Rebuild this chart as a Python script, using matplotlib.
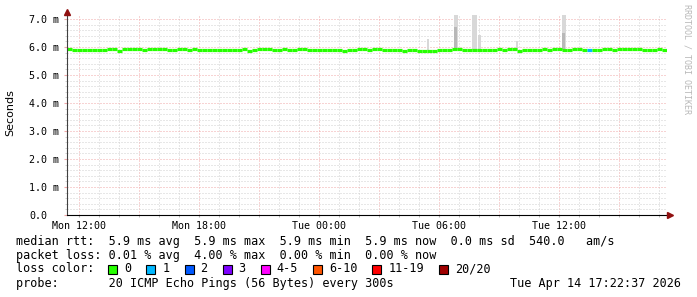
import numpy as np
import matplotlib
matplotlib.use('Agg')
import matplotlib.pyplot as plt
from matplotlib.patches import Rectangle
from matplotlib.transforms import offset_copy

W, H = 697, 297
MONO = 'DejaVu Sans Mono'

# median rtt in ms, one value per 15 minutes, starting Mon 11:22:37 (30 h)
median = [
    5.93, 5.88, 5.88, 5.88, 5.88, 5.88, 5.88, 5.88, 5.93, 5.93, 5.86, 5.93,
    5.93, 5.93, 5.93, 5.88, 5.93, 5.93, 5.93, 5.93, 5.88, 5.88, 5.93, 5.93,
    5.88, 5.93, 5.88, 5.88, 5.88, 5.88, 5.88, 5.88, 5.88, 5.88, 5.88, 5.93,
    5.86, 5.88, 5.93, 5.93, 5.93, 5.88, 5.88, 5.93, 5.88, 5.88, 5.93, 5.93,
    5.88, 5.88, 5.90, 5.88, 5.88, 5.88, 5.88, 5.86, 5.88, 5.88, 5.93, 5.93,
    5.88, 5.93, 5.93, 5.88, 5.88, 5.88, 5.88, 5.86, 5.88, 5.88, 5.86, 5.86,
    5.86, 5.86, 5.88, 5.88, 5.88, 5.93, 5.93, 5.88, 5.90, 5.88, 5.88, 5.90,
    5.88, 5.88, 5.93, 5.88, 5.93, 5.93, 5.87, 5.88, 5.88, 5.88, 5.88, 5.93,
    5.88, 5.93, 5.93, 5.88, 5.88, 5.93, 5.93, 5.88, 5.88, 5.88, 5.88, 5.93,
    5.93, 5.88, 5.93, 5.93, 5.93, 5.93, 5.93, 5.88, 5.88, 5.88, 5.93, 5.88,
]
step_h = 0.25

# steps with lost packets (index into median, lost pings out of 20)
loss_steps = [104]
loss_counts = [1]

# smoke spikes: start (hours from start), duration (h), outer top, inner top (ms)
smoke_start = [18.02, 19.38, 20.28, 20.58, 22.48, 24.78]
smoke_dur = [0.10, 0.20, 0.25, 0.15, 0.08, 0.20]
smoke_top = [6.29, 7.20, 7.20, 6.44, 6.22, 7.20]
smoke_core = [5.90, 6.70, 5.90, 5.90, 5.90, 6.50]

loss_labels = ['0', '1', '2', '3', '4-5', '6-10', '11-19', '20/20']
loss_colors = ['#26ff00', '#00b8ff', '#0059ff', '#7e00ff', '#ff00ff',
               '#ff5500', '#ff0000', '#a00000']

first_tick = 0.623  # Mon 12:00 in hours after start
tick_labels = ['Mon 12:00', 'Mon 18:00', 'Tue 00:00', 'Tue 06:00', 'Tue 12:00']

stat_line = ('median rtt:  5.9 ms avg  5.9 ms max  5.9 ms min  5.9 ms now'
             '  0.0 ms sd  540.0   am/s')
loss_line = 'packet loss: 0.01 % avg  4.00 % max  0.00 % min  0.00 % now'
probe_line = 'probe:       20 ICMP Echo Pings (56 Bytes) every 300s'
stamp = 'Tue Apr 14 17:22:37 2026'

fig = plt.figure(figsize=(W / 100, H / 100), dpi=100)
fig.patch.set_facecolor('white')
ax = fig.add_axes([66.5 / W, 82 / H, 600 / W, 200.3 / H])
ax.set_xlim(0, 30)
ax.set_ylim(0, 7.15)

# grid
hours = first_tick + np.arange(0, 30, 1)
for i, h in enumerate(hours):
    major = i % 3 == 0
    ax.axvline(h, color='#f0a8a8' if major else '#d0d0d0', lw=0.72,
               ls=(0, (1, 2)), zorder=1)
for v in np.arange(0.2, 7.15, 0.2):
    major = abs(v - round(v)) < 1e-6
    ax.axhline(v, color='#f0a8a8' if major else '#d0d0d0', lw=0.72,
               ls=(0, (1, 2)), zorder=1)

# smoke
ax.bar(smoke_start, np.array(smoke_top) - 5.9, width=smoke_dur, bottom=5.9,
       align='edge', color='#d8d8d8', lw=0, zorder=2)
ax.bar(smoke_start, np.array(smoke_core) - 5.9, width=np.array(smoke_dur) * 0.6,
       bottom=5.9, align='edge', color='#b8b8b8', lw=0, zorder=2)

# median line coloured by loss
cols = [loss_colors[0]] * len(median)
for k, c in zip(loss_steps, loss_counts):
    cols[k] = loss_colors[c]
x0 = np.arange(len(median)) * step_h
ax.hlines(median, x0, x0 + step_h, colors=cols, lw=2.3, zorder=3,
          capstyle='butt')

# axes
for s in ['top', 'right']:
    ax.spines[s].set_visible(False)
ax.spines['bottom'].set_color('black')
ax.spines['left'].set_color('#404040')
ax.spines['bottom'].set_zorder(5)
ax.spines['left'].set_zorder(5)

ax.set_xticks(first_tick + np.arange(0, 30, 6))
ax.set_xticklabels(tick_labels, fontfamily=MONO, fontsize=7.2)
ax.set_xticks(hours, minor=True)
ax.set_yticks(np.arange(0, 8, 1))
ax.set_yticklabels(['0.0'] + ['%.1f m' % v for v in range(1, 8)],
                   fontfamily=MONO, fontsize=7.2)
ax.set_yticks(np.arange(0.2, 7.15, 0.2), minor=True)
ax.tick_params(axis='x', which='both', length=1.5, color='#b0b0b0', pad=2.5)
ax.tick_params(axis='y', which='major', length=2.2, color='#f0a8a8', pad=24.8)
ax.tick_params(axis='y', which='minor', length=1.5, color='#c8c8c8')
for lab in ax.get_yticklabels():
    lab.set_horizontalalignment('left')

# arrows at the axis ends
ax.plot([0], [1], marker='^', ms=4.5, color='#901010', clip_on=False,
        transform=offset_copy(ax.transAxes, fig=fig, y=2.5, units='dots'),
        zorder=6)
ax.plot([1], [0], marker='>', ms=4.5, color='#901010', clip_on=False,
        transform=offset_copy(ax.transAxes, fig=fig, x=3.5, units='dots'),
        zorder=6)

fig.text(10 / W, 1 - 113 / H, 'Seconds', rotation=90, fontsize=8,
         family='DejaVu Sans', ha='center', va='center')
fig.text(687 / W, 1 - 59 / H, 'RRDTOOL / TOBI OETIKER', rotation=270,
         fontsize=6, family=MONO, color='#b8b8b8', ha='center', va='center')

# legend rows
cw = 7.1
lx = 16
fig.text(lx / W, 1 - 241 / H, stat_line, family=MONO, fontsize=8.5, va='center')
fig.text(lx / W, 1 - 255 / H, loss_line, family=MONO, fontsize=8.5, va='center')
fig.text(lx / W, 1 - 269 / H, 'loss color:', family=MONO, fontsize=8.5,
         va='center')
bx = lx + 13 * cw
for lab, c in zip(loss_labels, loss_colors):
    fig.add_artist(Rectangle((bx / W, 1 - 273.5 / H), 9 / W, 9 / H,
                             transform=fig.transFigure, fc=c, ec='black',
                             lw=0.8))
    fig.text((bx + 16) / W, 1 - 269 / H, lab, family=MONO, fontsize=8.5,
             va='center')
    bx += 16 + len(lab) * cw + 15
fig.text(lx / W, 1 - 283 / H, probe_line, family=MONO, fontsize=8.5,
         va='center')
fig.text(681 / W, 1 - 283 / H, stamp, family=MONO, fontsize=8.5, va='center',
         ha='right')

fig.savefig('out.png', dpi=100)
